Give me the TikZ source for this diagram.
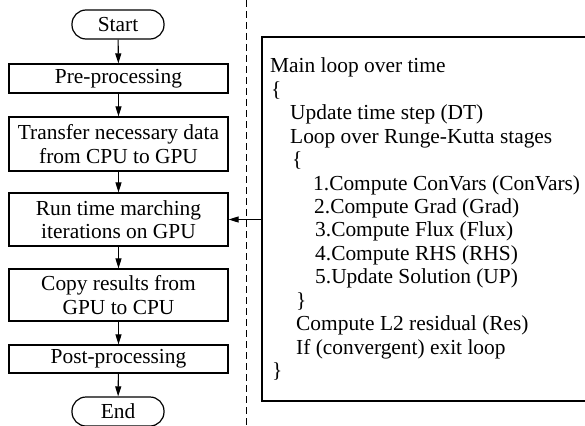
\documentclass[tikz,border=0pt]{standalone}
\usepackage{fontspec}
\setmainfont{Liberation Serif}
\newfontfamily\timesface{Liberation Serif}
\usetikzlibrary{arrows.meta}
\begin{document}
\begin{tikzpicture}[x=1pt,y=-1pt,
  txt/.style={font=\timesface\fontsize{21.4}{23.5}\selectfont},
  flow/.style={txt, draw, line width=1.2pt, minimum width=219pt, inner sep=0pt, align=center},
  term/.style={txt, draw, line width=1.2pt, rounded corners=14pt, minimum width=92pt, minimum height=29pt, inner sep=0pt},
  link/.style={line width=1.1pt, -{Triangle[length=10pt,width=6pt]}},
  codeline/.style={txt, anchor=base west, inner sep=0pt},
  divider/.style={line width=1pt, dash pattern=on 7pt off 4pt}
]
\useasboundingbox (0,0) rectangle (585,425);
\clip (0,0) rectangle (585,425);

% left: overall program flow
\node[term] (start) at (118,24.5) {Start};
\node[flow, minimum height=29pt] (pre) at (118.5,78.5) {Pre-processing};
\node[flow, minimum height=54pt] (trans) at (118.5,144) {Transfer necessary data\\from CPU to GPU};
\node[flow, minimum height=53pt] (run) at (118.5,219.5) {Run time marching\\iterations on GPU};
\node[flow, minimum height=52pt] (copy) at (118.5,295) {Copy results from\\GPU to CPU};
\node[flow, minimum height=28pt] (post) at (118.5,359) {Post-processing};
\node[term] (end) at (118,411.5) {End};

\draw[link] (start) -- (pre);
\draw[link] (pre) -- (trans);
\draw[link] (trans) -- (run);
\draw[link] (run) -- (copy);
\draw[link] (copy) -- (post);
\draw[link] (post) -- (end);

% separator
\coordinate (dtop) at (246,0);
\coordinate (dbot) at (246,425);
\draw[divider] (dtop) -- (dbot);

% right: detail of the GPU time loop
\node[draw, line width=1.2pt, minimum width=338pt, minimum height=364pt, inner sep=0pt] (loop) at (431,219) {};
\draw[link] (loop.west |- run.east) -- (run.east);

\node[codeline] (c1)  at (270,72.7)  {Main loop over time};
\node[codeline] (c2)  at (271,96.2)  {\{};
\node[codeline] (c3)  at (290,119.6) {Update time step (DT)};
\node[codeline] (c4)  at (290,143.1) {Loop over Runge-Kutta stages};
\node[codeline] (c5)  at (292,166.5) {\{};
\node[codeline] (c6)  at (313,190.0) {1.Compute ConVars (ConVars)};
\node[codeline] (c7)  at (314,213.5) {2.Compute Grad (Grad)};
\node[codeline] (c8)  at (315,236.9) {3.Compute Flux (Flux)};
\node[codeline] (c9)  at (315,260.4) {4.Compute RHS (RHS)};
\node[codeline] (c10) at (315,283.8) {5.Update Solution (UP)};
\node[codeline] (c11) at (296,307.3) {\}};
\node[codeline] (c12) at (296,330.8) {Compute L2 residual (Res)};
\node[codeline] (c13) at (296,354.2) {If (convergent) exit loop};
\node[codeline] (c14) at (272,377.7) {\}};
\end{tikzpicture}
\end{document}
